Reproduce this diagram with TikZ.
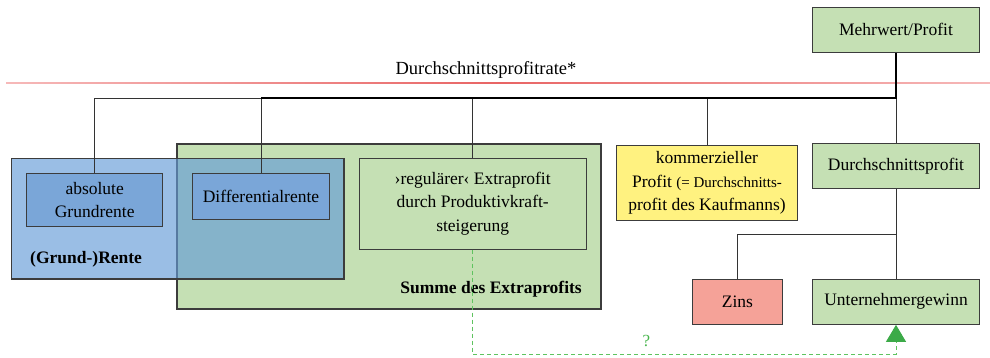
\documentclass[tikz,border=0pt]{standalone}
\usepackage{fontspec}
\setmainfont{Liberation Serif}
\usetikzlibrary{arrows.meta}
\definecolor{boxline}{RGB}{60,60,60}
\definecolor{boxgreen}{RGB}{197,224,180}
\definecolor{boxyellow}{RGB}{255,242,128}
\definecolor{boxred}{RGB}{245,162,152}
\definecolor{boxblue}{RGB}{122,166,216}
\definecolor{veilblue}{RGB}{100,155,215}
\definecolor{redline}{RGB}{232,100,100}
\definecolor{redfade}{RGB}{246,185,185}
\definecolor{dashgreen}{RGB}{95,195,95}
\definecolor{markgreen}{RGB}{70,180,75}
\definecolor{arrowgreen}{RGB}{60,170,72}
\begin{document}
\begin{tikzpicture}[x=1pt,y=-1pt,
  txt/.style={font=\fontsize{17.5}{23.5}\selectfont},
  box/.style={draw=boxline, line width=1.1pt, inner sep=0pt, align=center, txt},
  bold/.style={font=\fontsize{17.5}{23.5}\selectfont\bfseries, inner sep=0pt},
  link/.style={draw=black!80, line width=0.8pt},
  mainlink/.style={draw=black, line width=1.4pt},
  dashlink/.style={draw=dashgreen, line width=1pt, dash pattern=on 4pt off 3pt},
]
\useasboundingbox (0,0) rectangle (990,358);

% rate line with its caption
\shade[left color=redfade, right color=redfade, middle color=redline] (6,82.2) rectangle (990,83.8);
\node[font=\fontsize{18.5}{22}\selectfont, inner sep=0pt] (rate) at (486,70) {Durchschnittsprofitrate*};

% group of the extra profits
\node[box, fill=boxgreen, minimum width=424pt, minimum height=165pt] (summe) at (389,226.5) {};
\node[bold, anchor=east] (summelbl) at (582,289) {Summe des Extraprofits};
\node[box, fill=boxgreen, minimum width=226.7pt, minimum height=90.7pt] (regl) at (472.7,203.7)
  {›regulärer‹ Extraprofit\\durch Produktivkraft-\\steigerung};

% group of the rents, laid translucently over the green group
\node[box, fill=veilblue, fill opacity=0.65, text opacity=1, minimum width=332.3pt, minimum height=120.7pt] (rente) at (177.8,218.6) {};
\node[bold, anchor=west] (rentelbl) at (30,259) {(Grund-)Rente};
\node[box, fill=boxblue, minimum width=136pt, minimum height=53.4pt] (absgr) at (94.7,200) {absolute\\Grundrente};
\node[box, fill=boxblue, minimum width=136.6pt, minimum height=45.7pt] (diff) at (261,196.2) {Differentialrente};

% right-hand column
\node[box, fill=boxgreen, minimum width=166.6pt, minimum height=45pt] (mehr) at (896,29.8) {Mehrwert/Profit};
\node[box, fill=boxgreen, minimum width=166.6pt, minimum height=45pt] (avg) at (896,166.3) {Durchschnittsprofit};
\node[box, fill=boxyellow, minimum width=181.4pt, minimum height=75.3pt] (komm) at (707,183)
  {kommerzieller\\Profit \fontsize{15}{22}\selectfont (= Durchschnitts-\\profit des Kaufmanns)};
\node[box, fill=boxred, minimum width=90.7pt, minimum height=45pt] (zins) at (737.4,301.8) {Zins};
\node[box, fill=boxgreen, minimum width=166.6pt, minimum height=45pt] (unt) at (896,301.8) {Unternehmergewinn};

% distribution lines
\coordinate (bus) at (896,98);
\coordinate (split) at (896,234.3);
\draw[link] (bus) -| (absgr.north);
\draw[link] (bus) -| (diff.north);
\draw[link] (bus) -| (regl.north);
\draw[link] (bus) -| (komm.north);
\draw[link] (bus) -- (avg.north);
\draw[mainlink] (mehr.south) |- (diff.north |- bus);
\draw[link] (avg.south) -- (unt.north);
\draw[link] (split) -| (zins.north);

% questioned link from the extra profit to the entrepreneur's gain
\coordinate (dashcorner) at (472.7,354);
\draw[dashlink, -{Triangle[width=20pt, length=17pt, color=arrowgreen, fill=arrowgreen]}]
  (regl.south) -- (dashcorner) -| (unt.south);
\node[text=markgreen, font=\fontsize{17}{18}\selectfont, inner sep=0pt] (q) at (646.5,341) {?};
\end{tikzpicture}
\end{document}
